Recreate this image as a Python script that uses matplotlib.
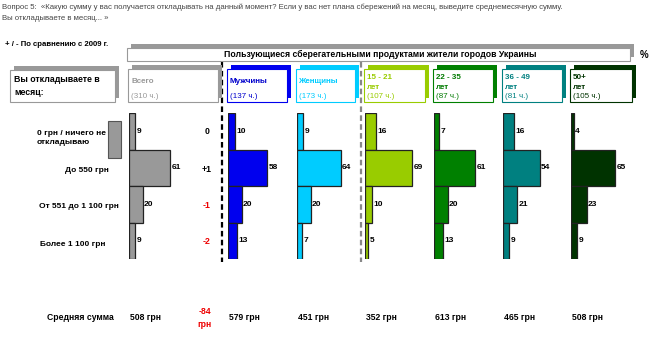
import matplotlib
matplotlib.use("Agg")
import matplotlib.pyplot as plt
from matplotlib.patches import Rectangle

plt.rcParams['font.family'] = ['Liberation Sans', 'DejaVu Sans']

# --- data ------------------------------------------------------------
rows = ["0 грн / ничего не\nоткладываю", "До 550 грн", "От 551 до 1 100 грн", "Более 1 100 грн"]
groups = ["Всего", "Мужчины", "Женщины", "15 - 21\nлет", "22 - 35\nлет", "36 - 49\nлет", "50+\nлет"]
group_n = ["(310 ч.)", "(137 ч.)", "(173 ч.)", "(107 ч.)", "(87 ч.)", "(81 ч.)", "(105 ч.)"]
vals_total = [9, 61, 20, 9]
vals_men = [10, 58, 20, 13]
vals_women = [9, 64, 20, 7]
vals_15_21 = [16, 69, 10, 5]
vals_22_35 = [7, 61, 20, 13]
vals_36_49 = [16, 54, 21, 9]
vals_50p = [4, 65, 23, 9]
series = [vals_total, vals_men, vals_women, vals_15_21, vals_22_35, vals_36_49, vals_50p]
change_2009 = ["0", "+1", "-1", "-2"]
avg_sum = ["508 грн", "579 грн", "451 грн", "352 грн", "613 грн", "465 грн", "508 грн"]
avg_change = "-84\nгрн"

colors = ["#999999", "#0000ee", "#00ccff", "#99cc00", "#008000", "#008080", "#003300"]
text_colors = ["#999999", "#0000cc", "#00ccff", "#99cc00", "#007a00", "#008080", "#003300"]

W, H = 650, 362
fig = plt.figure(figsize=(W / 100, H / 100), dpi=100)
bg = fig.add_axes([0, 0, 1, 1])
bg.set_xlim(0, W); bg.set_ylim(H, 0); bg.axis("off")

def shadow_box(x, y, w, h, shade, off=4, zorder=2):
    bg.add_patch(Rectangle((x + off, y - off), w, h, fc=shade, ec="none", zorder=zorder))
    bg.add_patch(Rectangle((x, y), w, h, fc="white", ec=shade, lw=0.8, zorder=zorder + 1))

# header texts
bg.text(2, 7, "Вопрос 5:  «Какую сумму у вас получается откладывать на данный момент? Если у вас нет плана сбережений на месяц, выведите среднемесячную сумму.",
        fontsize=5.6, color="#444444", va="center")
bg.text(2, 18, "Вы откладываете в месяц... »", fontsize=5.6, color="#444444", va="center")
bg.text(5, 45, "+ / - По сравнению с 2009 г.", fontsize=5.6, fontweight="bold", va="center")

shadow_box(127, 48, 503, 13, "#999999")
bg.text(380, 54.5, "Пользующиеся сберегательными продуктами жители городов Украины",
        fontsize=6.2, fontweight="bold", ha="center", va="center", zorder=5)
bg.text(644, 55, "%", fontsize=7, fontweight="bold", ha="center", va="center")

shadow_box(10, 70, 105, 32, "#999999")
bg.text(14, 86, "Вы откладываете в\nмесяц:", fontsize=6.3, fontweight="bold",
        va="center", linespacing=1.7, zorder=5)

# small gray block next to first row label
bg.add_patch(Rectangle((108, 121), 13, 37, fc="#999999", ec="#555555", lw=0.8))

label_x = [37, 65, 39, 40]
label_y = [138, 171, 206, 244]
for lab, lx, ly in zip(rows, label_x, label_y):
    bg.text(lx, ly, lab, fontsize=6, fontweight="bold", va="center", linespacing=1.5)

for ch, ly in zip(change_2009, [132, 169, 205, 241]):
    c = "#ee0000" if ch.startswith("-") else "black"
    bg.text(207, ly, ch, fontsize=6.3, fontweight="bold", color=c, ha="center", va="center")

# dashed separators
bg.plot([222, 222], [62, 262], color="black", lw=1.6, ls=(0, (2.5, 1.5)))
bg.plot([361, 361], [62, 262], color="#888888", lw=1.6, ls=(0, (2.5, 1.5)))

# group headers and bars
bar_left = [129, 228, 297, 365, 434, 503, 571]
box_w = [90, 60, 59, 61, 60, 60, 62]
px_per_pct = 0.68
ax_w = 75
for i, (g, n, vals) in enumerate(zip(groups, group_n, series)):
    x0 = bar_left[i] - 1
    shadow_box(x0, 69, box_w[i], 33, colors[i])
    two_line = "\n" in g
    bg.text(x0 + 3, 74 if two_line else 78, g, fontsize=5.8, fontweight="bold",
            color=text_colors[i], va="top", linespacing=1.55, zorder=5)
    bg.text(x0 + 3, 97, n, fontsize=5.8, color=text_colors[i], va="center", zorder=5)

    ax = fig.add_axes([bar_left[i] / W, (H - 259) / H, ax_w / W, (259 - 113) / H])
    ax.barh(range(len(vals)), vals, height=1.0, color=colors[i], edgecolor="#222222",
            lw=0.9, align="center")
    for j, v in enumerate(vals):
        ax.text(v + 2, j, str(v), fontsize=6, fontweight="bold", va="center")
    ax.set_xlim(0, ax_w / px_per_pct)
    ax.set_ylim(len(vals) - 0.5, -0.5)
    ax.axis("off")

# bottom row: average sum
bg.text(47, 317, "Средняя сумма", fontsize=6.2, fontweight="bold", va="center")
for i, s in enumerate(avg_sum):
    bg.text(bar_left[i] + 1, 317, s, fontsize=6.2, fontweight="bold", va="center")
bg.text(205, 318, avg_change, fontsize=6.2, fontweight="bold", color="#ee0000",
        ha="center", va="center", linespacing=1.6)

fig.savefig("out.png", dpi=100)
